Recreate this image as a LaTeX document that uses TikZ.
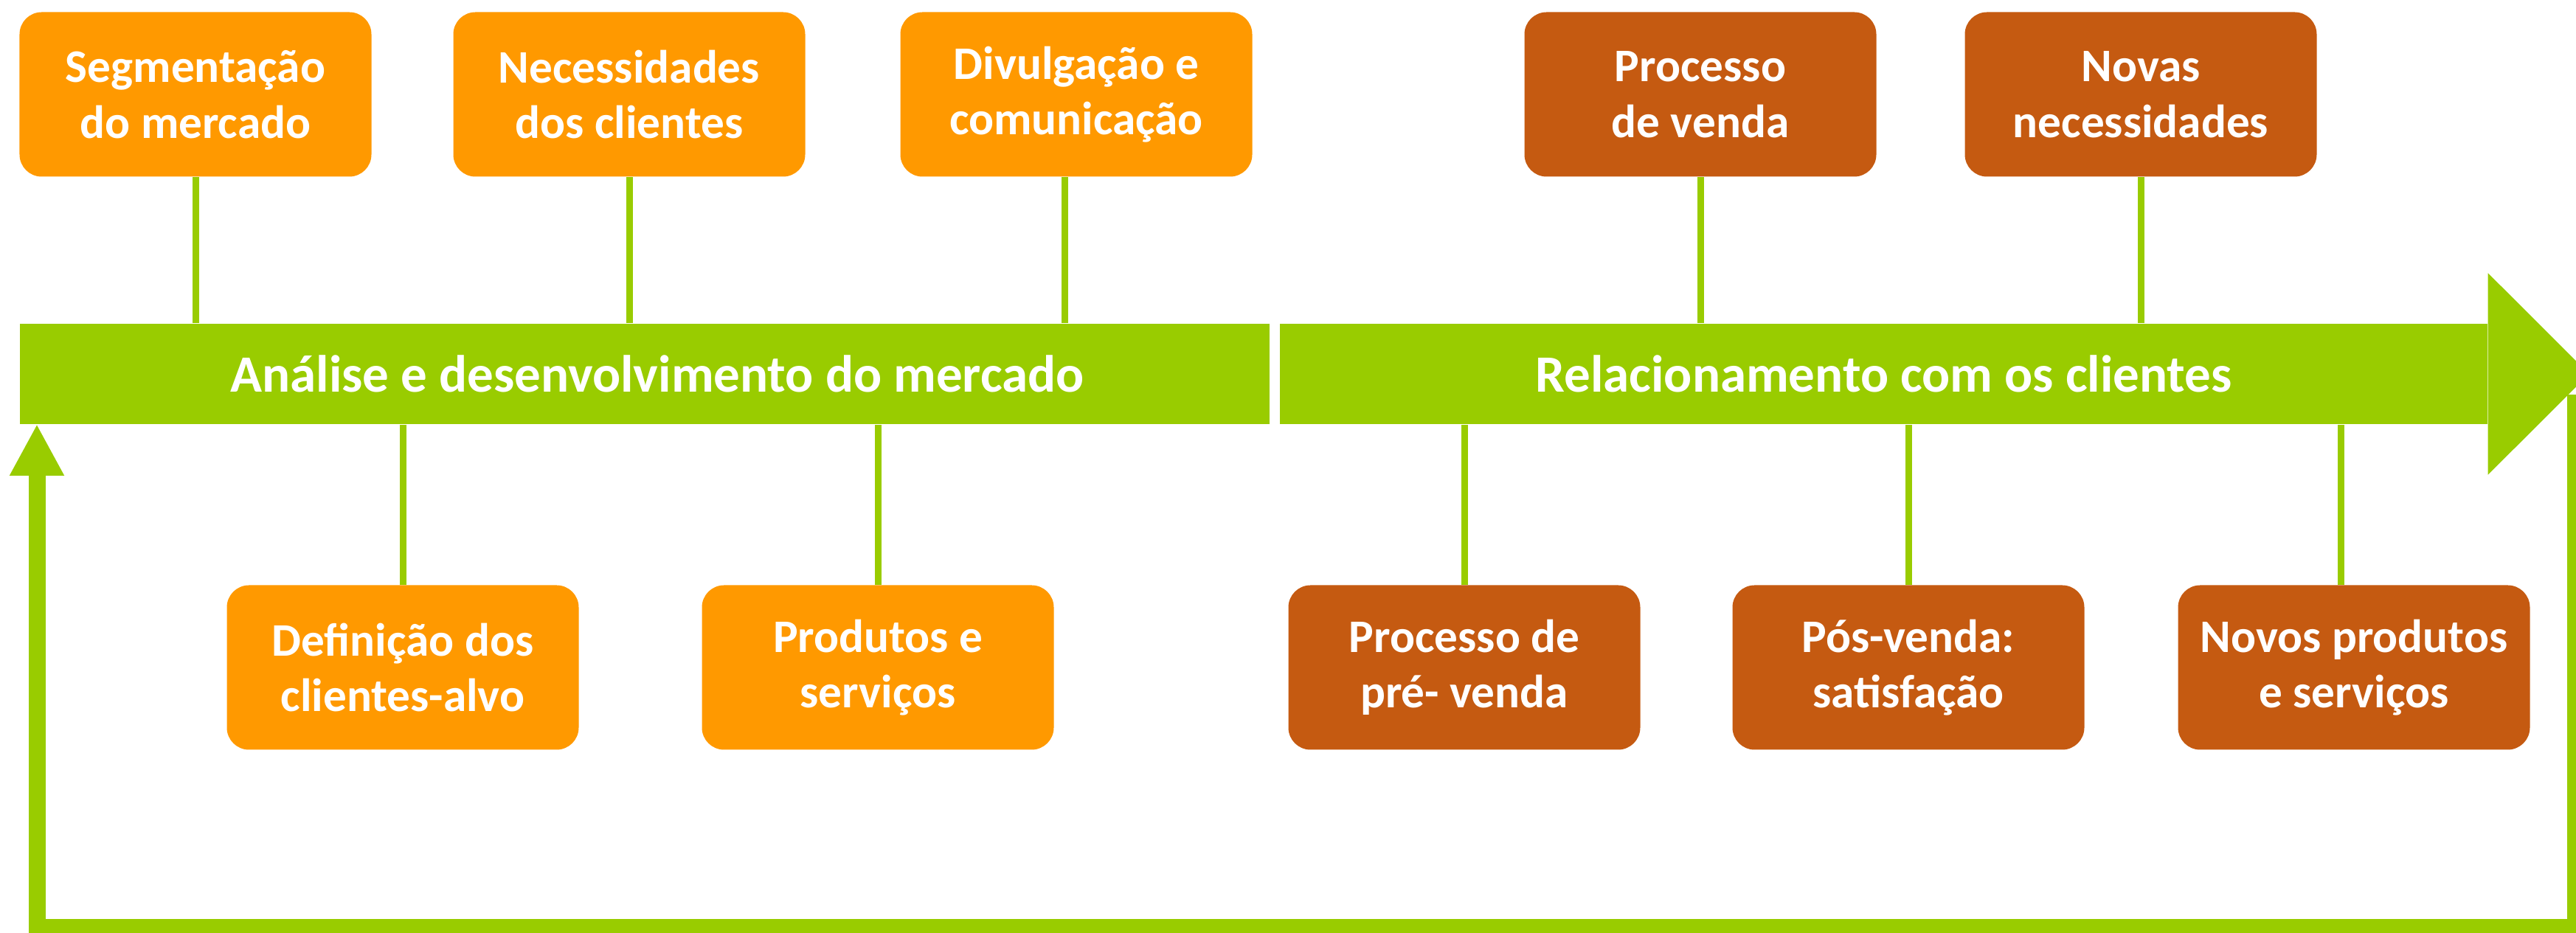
\documentclass[tikz,border=0pt]{standalone}
\usepackage{fontspec}
\setmainfont{Carlito}
\usepackage{xcolor}
\definecolor{colorMarket}{HTML}{FF9900}
\definecolor{colorClient}{HTML}{C55A11}
\definecolor{colorFlow}{HTML}{99CC00}
\usepackage{tikz}
\usetikzlibrary{arrows.meta, positioning}
\tikzset{stage/.style={rounded corners=0.3cm, minimum width=4.77cm, minimum height=2.23cm, inner sep=0pt, align=center, text=white, font=\fontsize{18}{21.5}\selectfont\bfseries}}
\tikzset{market/.style={stage, fill=colorMarket}, client/.style={stage, fill=colorClient}}
\tikzset{phase/.style={fill=colorFlow, minimum height=1.36cm, inner sep=0pt, text=white, font=\fontsize{20.2}{24}\selectfont\bfseries}}
\tikzset{link/.style={draw=colorFlow, line width=0.09cm}}

\begin{document}
\begin{tikzpicture}[feedback/.style={draw=colorFlow, line width=0.23cm, -{Triangle[width=0.69cm, length=0.70cm]}}]
\useasboundingbox (0,0) rectangle (34.92,12.65);
\clip (0,0) rectangle (34.92,12.65);
% return loop
\coordinate (back) at (34.91,7.3);
\coordinate (low) at (0.50,0.07);
\coordinate (home) at (0.50,6.90);
\draw [feedback] (back) |- (low) -- (home);
% the two phases
\node[phase, minimum width=16.94cm] (barL) at (8.74,7.58) {\hspace{0.34cm}Análise e desenvolvimento do mercado};
\node[phase, minimum width=16.37cm] (barR) at (25.535,7.58) {Relacionamento com os clientes};
\fill [colorFlow] (barR.north east) -- ([yshift=0.68cm]barR.north east) -- ([xshift=1.37cm]barR.east) -- ([yshift=-0.68cm]barR.south east) -- (barR.south east) -- cycle;
% market boxes
\node[market] (seg) at (2.65,11.37) {Segmentação\\do mercado};
\node[market] (nec) at (8.53,11.37) {Necessidades\\dos clientes};
\node[market] (div) at (14.59,11.37) {Divulgação e\\comunicação};
\node[market] (alvo) at (5.46,3.60) {Definição dos\\clientes-alvo};
\node[market] (prod) at (11.90,3.60) {Produtos e\\serviços};
% client boxes
\node[client] (venda) at (23.05,11.37) {Processo\\de venda};
\node[client] (novas) at (29.02,11.37) {Novas\\necessidades};
\node[client] (pre) at (19.85,3.60) {Processo de\\pré- venda};
\node[client] (pos) at (25.87,3.60) {Pós-venda:\\satisfação};
\node[client] (novos) at (31.91,3.60) {Novos produtos\\e serviços};
% ties to the bars
\draw [link] (seg) -- (seg |- barL.north);
\draw [link] (nec) -- (nec |- barL.north);
\draw [link] ([xshift=-0.16cm]div.south) -- ([xshift=-0.16cm]div.south |- barL.north);
\draw [link] (alvo) -- (alvo |- barL.south);
\draw [link] (prod) -- (prod |- barL.south);
\draw [link] (venda) -- (venda |- barR.north);
\draw [link] (novas) -- (novas |- barR.north);
\draw [link] (pre) -- (pre |- barR.south);
\draw [link] (pos) -- (pos |- barR.south);
\draw [link] ([xshift=-0.18cm]novos.north) -- ([xshift=-0.18cm]novos.north |- barR.south);
\end{tikzpicture}
\end{document}
